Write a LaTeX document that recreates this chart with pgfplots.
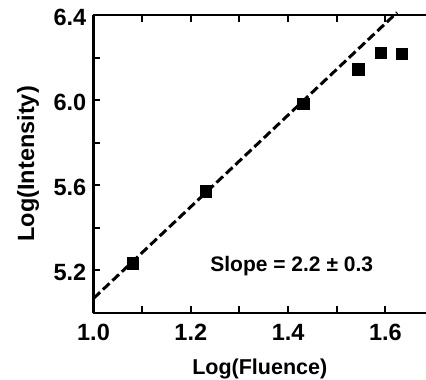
\documentclass[border=0pt]{standalone}
\usepackage{fontspec}
\setmainfont{Liberation Sans}
\usepackage{pgfplots}
\pgfplotsset{compat=1.18}
\usetikzlibrary{calc}
\begin{document}
\begin{tikzpicture}
\begin{axis}[
  name=ax,
  scale only axis,
  width=332.5pt, height=297.7pt,
  xmin=1.0, xmax=1.6835,
  ymin=5.0, ymax=6.4,
  axis y line*=left,
  axis line style={line width=2.3pt},
  every tick/.style={black, line width=2pt},
  major tick length=7pt, minor tick length=7pt,
  xtick={1.0,1.2,1.4,1.6},
  minor xtick={1.1,1.3,1.5,1.7},
  ytick={5.2,5.6,6.0,6.4},
  minor ytick={5.4,5.8,6.2},
  xticklabels={1.0,1.2,1.4,1.6},
  yticklabels={5.2,5.6,6.0,6.4},
  /pgf/number format/assume math mode=true,
  tick align=inside,
  xtick pos=both,
  ticklabel style={font=\fontsize{23.5}{25}\selectfont\bfseries, inner sep=0pt},
  xticklabel style={anchor=base, yshift=-28.2pt},
  yticklabel style={anchor=east, xshift=-7pt, yshift=-2pt},
  label style={font=\fontsize{21.5}{24}\selectfont\bfseries},
  xlabel={Log(Fluence)},
  ylabel={Log(Intensity)},
  xlabel style={at={(rel axis cs:0.5,0)}, anchor=base, yshift=-62.3pt, inner sep=0pt},
  ylabel style={at={(rel axis cs:0,0.5)}, anchor=center, yshift=65.5pt, inner sep=0pt, font=\fontsize{23.5}{26}\selectfont\bfseries},
  clip=false,
]
\addplot[black, line width=3pt, dash pattern=on 9pt off 4pt] coordinates {(1.0,5.067) (1.624,6.412)};
\addplot[only marks, mark=square*, mark size=5.7pt, black] coordinates {
(1.080,5.232) (1.231,5.572) (1.431,5.984) (1.544,6.146) (1.590,6.224) (1.634,6.217)
};
\node[anchor=west, font=\fontsize{21}{24}\selectfont\bfseries] at (axis cs:1.233,5.219) {Slope = 2.2 ± 0.3};
\end{axis}
\pgfresetboundingbox
\path ($(ax.south west)+(-93.5pt,-67.3pt)$) rectangle ($(ax.north east)+(0pt,15pt)$);
\end{tikzpicture}
\end{document}
